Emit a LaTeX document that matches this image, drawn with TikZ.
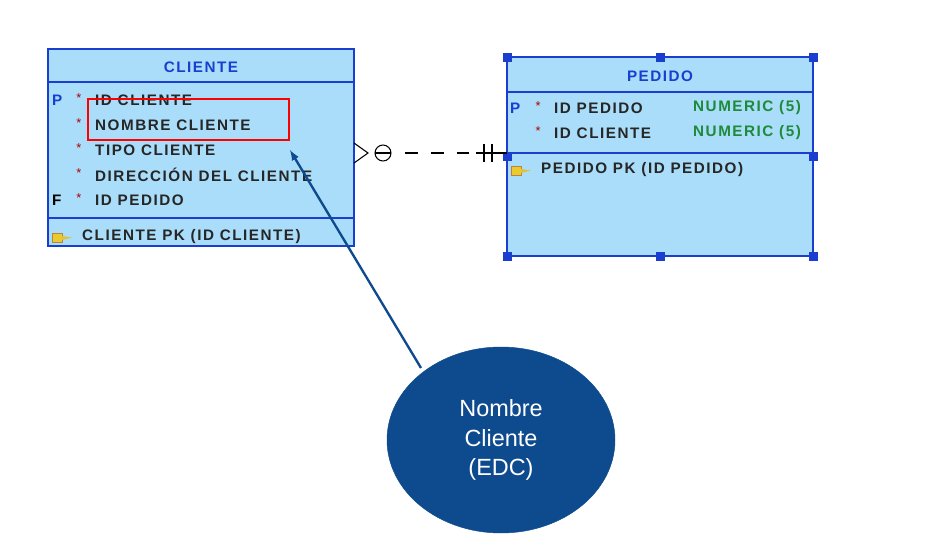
\documentclass[tikz,border=0pt]{standalone}
\usepackage{fontspec}
\usetikzlibrary{shapes.geometric}
\setmainfont{Liberation Sans}
\newfontfamily\tblfont[LetterSpace=10]{Liberation Sans}
\definecolor{tblfill}{HTML}{A9DDF9}
\definecolor{tbldraw}{HTML}{1A3FD0}
\definecolor{ellfill}{HTML}{0D4A8E}
\definecolor{numc}{HTML}{1E8A3A}
\begin{document}
\begin{tikzpicture}[x=0.03cm,y=-0.03cm,
  tbl/.style={draw=tbldraw,fill=tblfill,line width=1pt},
  sep/.style={draw=tbldraw,line width=1pt},
  txt/.style={anchor=west,inner sep=0,font=\tblfont\fontsize{13}{13}\selectfont\bfseries,text=black!85},
  ttl/.style={inner sep=0,font=\tblfont\fontsize{13}{13}\selectfont\bfseries,text=tbldraw},
  star/.style={inner sep=0,font=\fontsize{11}{11}\selectfont,text=red!70!black},
  pf/.style={anchor=west,inner sep=0,font=\fontsize{13}{13}\selectfont\bfseries},
  num/.style={anchor=west,inner sep=0,font=\tblfont\fontsize{13}{13}\selectfont\bfseries,text=numc},
  hd/.style={fill=tbldraw,minimum size=0.27cm,inner sep=0}]
\useasboundingbox (0,0) rectangle (931,557);
% CLIENTE
\path[tbl] (48,49) rectangle (354,246);
\draw[sep] (48,82) -- (354,82);
\draw[sep] (48,218) -- (354,218);
\node[ttl] (ct) at (201,67) {CLIENTE};
\node[pf,text=tbldraw] (cp) at (52,100) {P};
\node[pf] (cf) at (52,200) {F};
\foreach \y in {100,125,150,175,200} \node[star] at (79,\y-2) {*};
\node[txt] (c1) at (95,100) {ID CLIENTE};
\node[txt] (c2) at (95,125) {NOMBRE CLIENTE};
\node[txt] (c3) at (95,150) {TIPO CLIENTE};
\node[txt] (c4) at (95,175) {DIRECCIÓN DEL CLIENTE};
\node[txt] (c5) at (95,200) {ID PEDIDO};
\path[fill=yellow!60!brown,draw=brown] (52,233) rectangle (62,242);
\path[fill=yellow!50!brown] (62,236) -- (72,237.5) -- (62,240) -- cycle;
\node[txt] (ck) at (82,237) {CLIENTE PK (ID CLIENTE)};
\node[draw=red,line width=1.5pt,minimum width=201*0.03cm,minimum height=41*0.03cm,inner sep=0] (hl) at (188.5,119.5) {};
% PEDIDO
\path[tbl] (507,57) rectangle (813,256);
\draw[sep] (507,92) -- (813,92);
\draw[sep] (507,153) -- (813,153);
\node[ttl] (pt) at (660,76) {PEDIDO};
\node[pf,text=tbldraw] (pp) at (510,108) {P};
\foreach \y in {108,133} \node[star] at (538,\y-2) {*};
\node[txt] (p1) at (554,108) {ID PEDIDO};
\node[txt] (p2) at (554,133) {ID CLIENTE};
\node[num] (n1) at (693,108) {NUMERIC (5)};
\node[num] (n2) at (693,133) {NUMERIC (5)};
\path[fill=yellow!60!brown,draw=brown] (511,166) rectangle (521,175);
\path[fill=yellow!50!brown] (521,169) -- (531,170.5) -- (521,173) -- cycle;
\node[txt] (pk) at (541,170) {PEDIDO PK (ID PEDIDO)};
\foreach \p in {(507,57),(660,57),(813,57),(507,156),(813,156),(507,256),(660,256),(813,256)} \node[hd] at \p {};
% relation
\coordinate (r0) at (354,153);
\coordinate (r1) at (507,153);
\draw[line width=0.9pt] (354,143) -- (368,153) -- (354,163);
\draw[line width=0.9pt] (383,153) circle[radius=8];
\draw[line width=0.9pt] (375,153) -- (391,153);
\draw[line width=0.9pt,dash pattern=on 11pt off 11pt] (405,153) -- (490,153);
\draw[line width=0.9pt] (484,144) -- (484,162);
\draw[line width=0.9pt] (492,144) -- (492,162) (476,153) -- (r1);
% callout
\node[ellipse,fill=ellfill,draw=ellfill,minimum width=228*0.03cm,minimum height=186*0.03cm,text=white,align=center,font=\fontsize{20}{25}\selectfont] (el) at (501,440) {Nombre\\Cliente\\(EDC)};
\draw[-latex,line width=2pt,draw=ellfill] (421,368) -- (290,150);
\end{tikzpicture}
\end{document}
